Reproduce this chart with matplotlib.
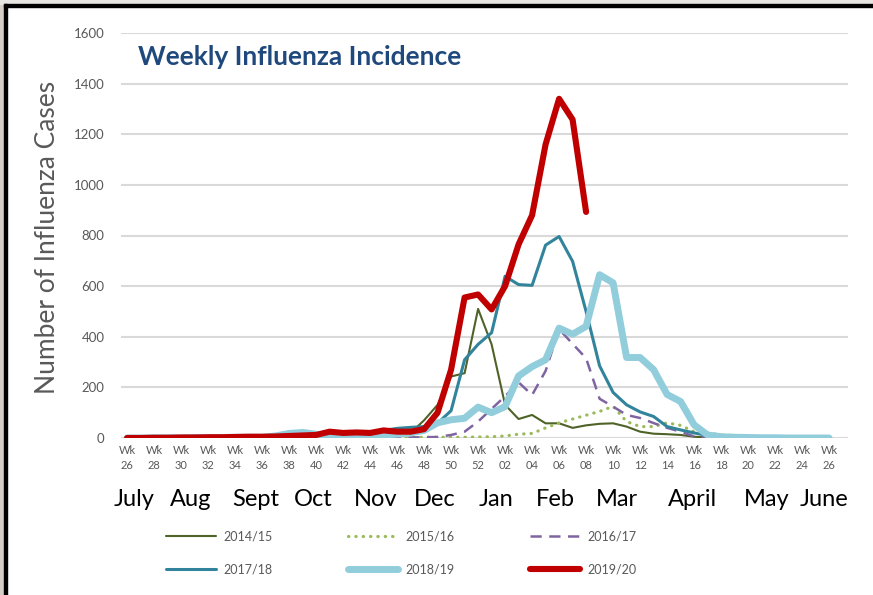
import numpy as np
import matplotlib
matplotlib.use("Agg")
import matplotlib.pyplot as plt
from matplotlib.patches import Rectangle

plt.rcParams['font.family'] = ['Lato', 'DejaVu Sans']

# Week numbers: Wk 26 of one year through Wk 26 of the next
WEEKS = list(range(26, 53)) + list(range(1, 27))

SEASONS = ["2014/15", "2015/16", "2016/17", "2017/18", "2018/19", "2019/20"]

cases_1415 = [2, 2, 2, 3, 3, 3, 3, 3, 4, 4, 5, 5, 6, 6, 8, 8, 8, 10, 10, 12,
              14, 20, 70, 131, 243, 256, 510, 370, 131, 75, 91, 58, 58, 40, 50,
              56, 58, 45, 25, 17, 15, 12, 5, 2, 1, 1, 1, 0, 0, 0, 0, 0, 0]
cases_1516 = [0, 0, 0, 0, 0, 0, 0, 0, 0, 0, 0, 0, 0, 0, 0, 0, 0, 0, 0, 0,
              2, 2, 3, 3, 3, 3, 4, 5, 8, 15, 18, 40, 60, 75, 90, 105, 125, 65,
              45, 45, 60, 50, 25, 20, 12, 10, 6, 3, 2, 1, 1, 0, 0]
cases_1617 = [0, 0, 0, 0, 0, 0, 0, 0, 0, 0, 0, 0, 0, 0, 0, 0, 0, 0, 0, 0,
              2, 2, 3, 4, 12, 25, 65, 115, 165, 220, 170, 265, 430, 372, 315,
              155, 124, 91, 79, 59, 40, 25, 6, 0, 0, 0, 0, 0, 0, 0, 0, 0, 0]
cases_1718 = [1, 1, 1, 2, 2, 2, 3, 3, 4, 5, 6, 8, 10, 15, 12, 8, 8, 10, 12, 30,
              38, 42, 45, 58, 108, 309, 370, 416, 639, 606, 603, 762, 796, 698,
              500, 285, 180, 131, 103, 85, 45, 32, 20, 10, 6, 4, 3, 2, 1, 1, 0,
              0, 0]
cases_1819 = [0, 0, 1, 1, 1, 2, 2, 2, 3, 3, 3, 8, 18, 22, 15, 5, 3, 5, 8, 12,
              15, 20, 30, 60, 72, 78, 122, 100, 124, 245, 282, 309, 434, 410,
              441, 645, 613, 318, 318, 270, 172, 144, 52, 12, 5, 3, 2, 1, 1, 0,
              0, 0, 0]
cases_1920 = [0, 0, 1, 1, 2, 2, 3, 3, 4, 5, 5, 6, 8, 10, 12, 25, 20, 22, 20,
              30, 25, 25, 35, 100, 270, 555, 567, 508, 600, 765, 880, 1160,
              1340, 1258, 893]

MONTHS = ["July", "Aug", "Sept", "Oct", "Nov", "Dec", "Jan", "Feb", "Mar",
          "April", "May", "June"]
month_pos = [0.5, 4.7, 9.5, 13.8, 18.4, 22.8, 27.3, 31.7, 36.3, 41.9, 47.4, 51.6]

styles = {
    "2014/15": dict(color="#4f6228", lw=1.5),
    "2015/16": dict(color="#9bbb59", lw=2.3, linestyle=(0, (0.1, 2.2)),
                    dash_capstyle="round"),
    "2016/17": dict(color="#8064a2", lw=1.8, linestyle=(0, (4.5, 3.0))),
    "2017/18": dict(color="#31849b", lw=2.2),
    "2018/19": dict(color="#92cddc", lw=5.0),
    "2019/20": dict(color="#c00000", lw=4.4),
}

series = [cases_1415, cases_1516, cases_1617, cases_1718, cases_1819, cases_1920]

fig = plt.figure(figsize=(8.73, 5.95), dpi=100)
ax = fig.add_axes([121 / 873, 1 - 438 / 595, 727 / 873, 405 / 595])

lines = {}
for season, vals in zip(SEASONS, series):
    x = np.arange(len(vals))
    ln, = ax.plot(x, vals, label=season, solid_joinstyle="round",
                  solid_capstyle="round", **styles[season])
    lines[season] = ln

ax.set_xlim(-0.45, 53.4)
ax.set_ylim(0, 1600)
ax.set_yticks(np.arange(0, 1601, 200))
ax.yaxis.grid(True, color="#d9d9d9", lw=1.5)
ax.set_axisbelow(True)
for s in ax.spines.values():
    s.set_visible(False)

tick_idx = np.arange(0, len(WEEKS), 2)
ax.set_xticks(tick_idx)
ax.set_xticklabels(["Wk\n%02d" % WEEKS[i] for i in tick_idx], fontsize=8,
                   color="#595959", linespacing=1.45)
ax.tick_params(axis="both", length=0)
ax.tick_params(axis="x", pad=5)
ax.tick_params(axis="y", labelsize=9.5, labelcolor="#595959", pad=12)

for m, p in zip(MONTHS, month_pos):
    ax.annotate(m, xy=(p, -0.153), xycoords=("data", "axes fraction"),
                ha="center", va="center", fontsize=17, color="black")

ax.text(0.023, 0.94, "Weekly Influenza Incidence", transform=ax.transAxes,
        fontsize=19, fontweight="bold", color="#1f497d", va="center")

fig.text(48 / 873, 1 - 237 / 595, "Number of Influenza Cases", rotation=90,
         ha="center", va="center", fontsize=19, color="#595959")

order = ["2014/15", "2017/18", "2015/16", "2018/19", "2016/17", "2019/20"]
fig.legend([lines[s] for s in order], order, loc="center left",
           bbox_to_anchor=(155 / 873, 1 - 553 / 595), ncol=3, frameon=False,
           fontsize=9, labelcolor="#595959", handlelength=4.0,
           handletextpad=0.6, columnspacing=6.0, labelspacing=1.65)

# window-like frame: grey strip and black border on top/left
fig.add_artist(Rectangle((0, 0), 4 / 873, 1, transform=fig.transFigure,
                         color="#d4d0c8", zorder=10))
fig.add_artist(Rectangle((0, 1 - 4 / 595), 1, 4 / 595, transform=fig.transFigure,
                         color="#e8e6e2", zorder=10))
fig.add_artist(Rectangle((4 / 873, 0), 2.5 / 873, 1 - 4 / 595,
                         transform=fig.transFigure, color="black", zorder=11))
fig.add_artist(Rectangle((4 / 873, 1 - 6.5 / 595), 1, 2.5 / 595,
                         transform=fig.transFigure, color="black", zorder=11))

fig.savefig("out.png", dpi=100)
